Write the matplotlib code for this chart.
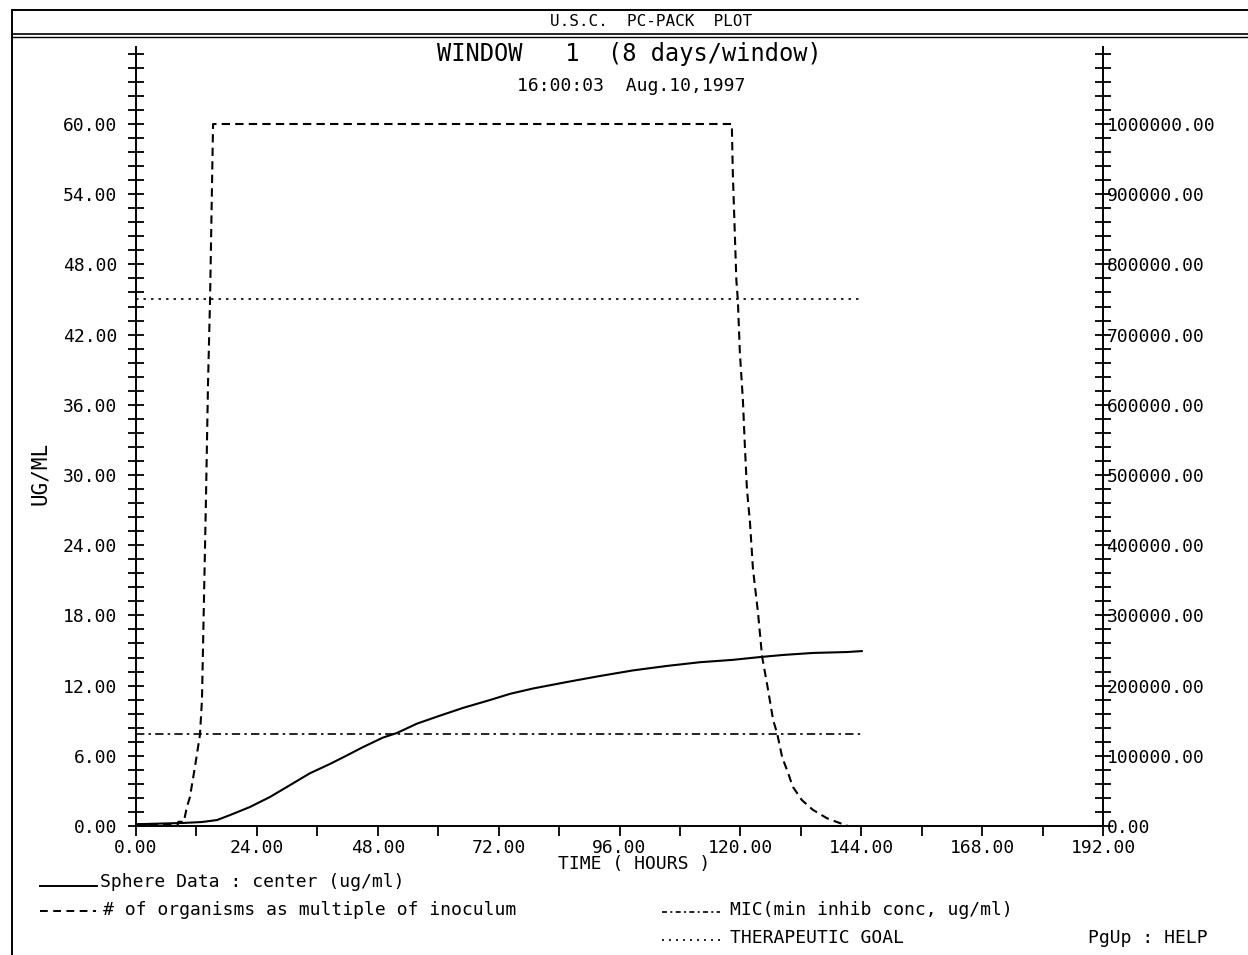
import matplotlib
matplotlib.use("Agg")
import matplotlib.pyplot as plt
from matplotlib.lines import Line2D
from matplotlib.ticker import FixedLocator, MultipleLocator, FuncFormatter

# -----------------------------
# Data
# -----------------------------
sphere_hours = [0, 9.3, 13.1, 16.1, 18.7, 22.6, 26.6, 30.6, 34.5, 38.5, 41.5,
                45.1, 49.0, 51.8, 55.8, 59.8, 64.9, 70.3, 74.3, 78.8, 85.6,
                92.1, 98.7, 105.4, 112.0, 118.5, 123.9, 128.5, 134.4, 141.2, 144.1]
sphere_conc = [0.15, 0.26, 0.34, 0.51, 0.94, 1.62, 2.48, 3.5, 4.5, 5.3, 5.95,
               6.75, 7.55, 7.95, 8.75, 9.35, 10.09, 10.77, 11.3, 11.75, 12.31,
               12.82, 13.3, 13.68, 14.0, 14.2, 14.44, 14.62, 14.79, 14.87, 14.95]

org_hours = [0, 8.3, 8.4, 9.5, 10.1, 10.7, 11.7, 12.7, 13.1, 13.9, 14.3, 14.7, 15.3,
             118.3, 118.5, 119.2, 119.5, 119.9, 120.5, 120.9, 121.3, 121.9, 122.5,
             123.5, 124.3, 125.5, 126.5, 127.3, 128.3, 129.5, 130.4, 132.2, 134.4,
             137.2, 139.8, 141.2]
org_count = [2000, 2000, 6000, 6000, 27000, 41000, 84000, 130000, 180000, 469000,
             631000, 749000, 1000000,
             1000000, 930000, 778000, 749000, 674000, 607000, 540000, 480000,
             433000, 366000, 304000, 242000, 194000, 151000, 132000, 98000, 75000,
             56000, 37000, 23000, 11000, 4000, 1000]

mic_value = 7.9
goal_value = 45.0
line_hours = [0, 144]

x_major = list(range(0, 193, 24))
y_major = [0, 6, 12, 18, 24, 30, 36, 42, 48, 54, 60]
r_major = [0, 100000, 200000, 300000, 400000, 500000, 600000, 700000, 800000,
           900000, 1000000]

# -----------------------------
# Figure
# -----------------------------
W, H = 1248, 955
plt.rcParams["font.family"] = ["DejaVu Sans Mono"]
fig = plt.figure(figsize=(W / 100, H / 100), dpi=100)


def fx(px):
    return px / W


def fy(py):
    return 1 - py / H


ax = fig.add_axes([fx(136), fy(826), fx(1103) - fx(136), fy(47) - fy(826)])
ax2 = ax.twinx()

y_top = 779 / 11.7
ax.set_xlim(0, 192)
ax.set_ylim(0, y_top)
ax2.set_ylim(0, y_top / 60 * 1000000)

lw = 1.5
ax.plot(sphere_hours, sphere_conc, color="black", lw=lw)
ax2.plot(org_hours, org_count, color="black", lw=lw, linestyle=(0, (4, 2.5)))
ax.plot(line_hours, [mic_value, mic_value], color="black", lw=1.2,
        linestyle=(0, (5, 2.5, 1.5, 2.5)))
ax.plot(line_hours, [goal_value, goal_value], color="black", lw=1.2,
        linestyle=(0, (1.5, 3)))

# spines
for a in (ax, ax2):
    a.spines["top"].set_visible(False)
    for s in a.spines.values():
        s.set_linewidth(1.4)
ax.spines["right"].set_visible(False)
ax2.spines["left"].set_visible(False)
ax2.spines["bottom"].set_visible(False)

# ticks
ax.xaxis.set_major_locator(FixedLocator(x_major))
ax.xaxis.set_minor_locator(MultipleLocator(12))
ax.xaxis.set_major_formatter(FuncFormatter(lambda v, p: f"{v:.2f}"))
ax.tick_params(axis="x", which="both", direction="out", length=7, width=1.3,
               top=False, labelsize=13, pad=2)

ax.yaxis.set_major_locator(FixedLocator(y_major))
ax.yaxis.set_minor_locator(MultipleLocator(1.2))
ax.yaxis.set_major_formatter(FuncFormatter(lambda v, p: f"{v:.2f}"))
ax.tick_params(axis="y", which="both", direction="inout", length=11, width=1.3,
               right=False, labelsize=13, pad=8)

ax2.yaxis.set_major_locator(FixedLocator(r_major))
ax2.yaxis.set_minor_locator(MultipleLocator(20000))
ax2.yaxis.set_major_formatter(FuncFormatter(lambda v, p: f"{v:.2f}"))
ax2.tick_params(axis="y", which="both", direction="inout", length=11, width=1.3,
                labelsize=13, pad=-3)

# -----------------------------
# Frame and banner
# -----------------------------
fig.add_artist(Line2D([fx(12), fx(12)], [fy(10), fy(955)], color="black", lw=1.4,
                      transform=fig.transFigure))
fig.add_artist(Line2D([fx(12), 1], [fy(10), fy(10)], color="black", lw=1.4,
                      transform=fig.transFigure))
fig.add_artist(Line2D([fx(12), 1], [fy(34), fy(34)], color="black", lw=1.2,
                      transform=fig.transFigure))
fig.add_artist(Line2D([fx(12), 1], [fy(37), fy(37)], color="black", lw=1.0,
                      transform=fig.transFigure))

fig.text(fx(651), fy(21), "U.S.C.  PC-PACK  PLOT", ha="center", va="center", fontsize=11.5)
fig.text(fx(629), fy(54), "WINDOW   1  (8 days/window)", ha="center", va="center",
         fontsize=17)
fig.text(fx(631), fy(86), "16:00:03  Aug.10,1997", ha="center", va="center", fontsize=13)
fig.text(fx(40), fy(473), "UG/ML", ha="center", va="center", rotation=90, fontsize=15)
fig.text(fx(634), fy(864), "TIME ( HOURS )", ha="center", va="center", fontsize=13)

# -----------------------------
# Legend
# -----------------------------
fig.add_artist(Line2D([fx(40), fx(97)], [fy(886), fy(886)], color="black", lw=1.4,
                      transform=fig.transFigure))
fig.text(fx(100), fy(882), "Sphere Data : center (ug/ml)", ha="left", va="center",
         fontsize=13)
fig.add_artist(Line2D([fx(40), fx(96)], [fy(911), fy(911)], color="black", lw=1.4,
                      linestyle=(0, (4, 2.8)), transform=fig.transFigure))
fig.text(fx(103), fy(910), "# of organisms as multiple of inoculum", ha="left",
         va="center", fontsize=13)
fig.add_artist(Line2D([fx(662), fx(720)], [fy(912), fy(912)], color="black", lw=1.2,
                      linestyle=(0, (3, 2, 1.2, 2)), transform=fig.transFigure))
fig.text(fx(730), fy(910), "MIC(min inhib conc, ug/ml)", ha="left", va="center",
         fontsize=13)
fig.add_artist(Line2D([fx(662), fx(720)], [fy(940), fy(940)], color="black", lw=1.2,
                      linestyle=(0, (1.2, 3)), transform=fig.transFigure))
fig.text(fx(730), fy(938), "THERAPEUTIC GOAL", ha="left", va="center", fontsize=13)
fig.text(fx(1088), fy(938), "PgUp : HELP", ha="left", va="center", fontsize=13)

fig.savefig("out.png", dpi=100)
